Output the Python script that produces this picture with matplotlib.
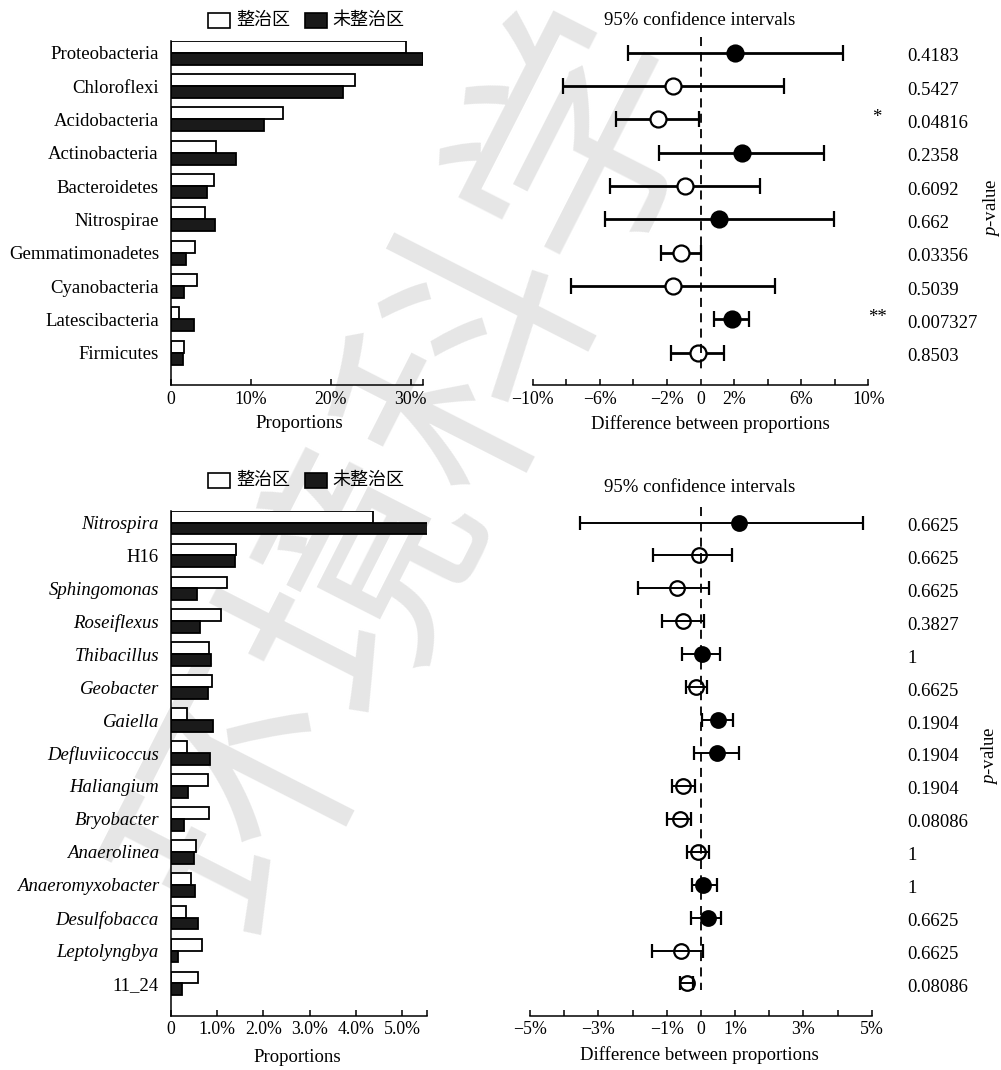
import matplotlib
matplotlib.use("Agg")
import matplotlib.pyplot as plt
import matplotlib.transforms as mtransforms
from matplotlib.patches import Rectangle

W, H = 1001, 1070

plt.rcParams["font.family"] = ["Liberation Serif", "Noto Sans CJK SC"]
plt.rcParams["mathtext.fontset"] = "custom"
plt.rcParams["mathtext.rm"] = "Liberation Serif"
plt.rcParams["mathtext.it"] = "Liberation Serif:italic"
plt.rcParams["axes.unicode_minus"] = True

# ---- phylum level (%) ----
phyla = ["Proteobacteria", "Chloroflexi", "Acidobacteria", "Actinobacteria",
         "Bacteroidetes", "Nitrospirae", "Gemmatimonadetes", "Cyanobacteria",
         "Latescibacteria", "Firmicutes"]
phyla_treated = [29.4, 23.1, 14.1, 5.7, 5.4, 4.3, 3.1, 3.25, 1.0, 1.66]
phyla_untreated = [31.6, 21.5, 11.7, 8.2, 4.6, 5.6, 1.9, 1.7, 2.9, 1.6]
phyla_diff = [2.06, -1.62, -2.55, 2.49, -0.90, 1.12, -1.16, -1.62, 1.90, -0.15]
phyla_low = [-4.34, -8.18, -5.06, -2.49, -5.41, -5.71, -2.33, -7.74, 0.78, -1.76]
phyla_high = [8.47, 4.96, -0.07, 7.36, 3.55, 7.98, 0.05, 4.44, 2.89, 1.42]
phyla_p = [0.4183, 0.5427, 0.04816, 0.2358, 0.6092, 0.662, 0.03356, 0.5039,
           0.007327, 0.8503]
phyla_stars = ["", "", "*", "", "", "", "", "", "**", ""]
phyla_bar_ticks = [0, 10, 20, 30]
phyla_bar_labels = ["0", "10%", "20%", "30%"]
phyla_ci_ticks = [-10, -8, -6, -4, -2, 0, 2, 4, 6, 8, 10]
phyla_ci_labels = ["\u221210%", "", "\u22126%", "", "\u22122%", "0", "2%", "",
                   "6%", "", "10%"]

# ---- genus level (%) ----
genera = ["Nitrospira", "H16", "Sphingomonas", "Roseiflexus", "Thibacillus",
          "Geobacter", "Gaiella", "Defluviicoccus", "Haliangium", "Bryobacter",
          "Anaerolinea", "Anaeromyxobacter", "Desulfobacca", "Leptolyngbya",
          "11_24"]
genera_treated = [4.38, 1.40, 1.22, 1.09, 0.83, 0.89, 0.36, 0.36, 0.81, 0.83,
                  0.54, 0.43, 0.33, 0.68, 0.60]
genera_untreated = [5.55, 1.39, 0.56, 0.63, 0.87, 0.81, 0.91, 0.85, 0.37, 0.29,
                    0.50, 0.52, 0.58, 0.16, 0.24]
genera_diff = [1.12, -0.04, -0.69, -0.52, 0.03, -0.14, 0.51, 0.46, -0.51, -0.61,
               -0.09, 0.07, 0.20, -0.58, -0.41]
genera_low = [-3.54, -1.41, -1.83, -1.13, -0.56, -0.44, 0.04, -0.20, -0.83, -0.98,
              -0.40, -0.27, -0.28, -1.44, -0.61]
genera_high = [4.76, 0.92, 0.25, 0.09, 0.56, 0.17, 0.95, 1.12, -0.17, -0.29,
               0.24, 0.48, 0.59, 0.06, -0.22]
genera_p = [0.6625, 0.6625, 0.6625, 0.3827, 1, 0.6625, 0.1904, 0.1904, 0.1904,
            0.08086, 1, 1, 0.6625, 0.6625, 0.08086]
genera_stars = [""] * 15
genera_upright = ["H16", "11_24"]
genera_bar_ticks = [0, 1, 2, 3, 4, 5]
genera_bar_labels = ["0", "1.0%", "2.0%", "3.0%", "4.0%", "5.0%"]
genera_ci_ticks = [-5, -4, -3, -2, -1, 0, 1, 2, 3, 4, 5]
genera_ci_labels = ["\u22125%", "", "\u22123%", "", "\u22121%", "0", "1%", "",
                    "3%", "", "5%"]

FS = 13.5
TICK_FS = 12.8
BAR_H = 0.36


def fx(px):
    return px / W


def fy(py):
    return 1 - py / H


def add_axes_px(left, right, top, bottom):
    ax = fig.add_axes([fx(left), fy(bottom), (right - left) / W, (bottom - top) / H])
    ax.set_facecolor("none")
    return ax


def legend_px(top):
    # hand-placed legend: white / black swatches with Chinese labels
    for x0, fc, label, tx in [(208, "white", "整治区", 236),
                              (305, "#1a1a1a", "未整治区", 332)]:
        fig.add_artist(Rectangle((fx(x0), fy(top + 15)), 22 / W, 15 / H,
                                 transform=fig.transFigure, facecolor=fc,
                                 edgecolor="black", linewidth=1.2))
        fig.text(fx(tx), fy(top + 7.5), label, fontsize=13, ha="left",
                 va="center", family=["Noto Sans CJK SC"])


def bar_panel(ax, names, treated, untreated, xmax, ybottom, ticks, labels,
              upright=None):
    y = list(range(len(names)))
    y_white = [v - BAR_H / 2 for v in y]
    y_black = [v + BAR_H / 2 for v in y]
    ax.barh(y_white, treated, height=BAR_H, color="white", edgecolor="black",
            linewidth=1.3)
    ax.barh(y_black, untreated, height=BAR_H, color="#1a1a1a", edgecolor="black",
            linewidth=1.3)
    ax.set_xlim(0, xmax)
    ax.set_ylim(ybottom, -BAR_H)
    ax.set_yticks(y)
    ax.set_yticklabels(names, fontsize=FS)
    if upright is not None:
        for lab in ax.get_yticklabels():
            if lab.get_text() not in upright:
                lab.set_fontstyle("italic")
    ax.tick_params(axis="y", length=0, pad=8.5)
    ax.set_xticks(ticks)
    ax.set_xticklabels(labels, fontsize=TICK_FS)
    ax.set_xticks([xmax], minor=True)
    ax.tick_params(axis="x", which="both", direction="in", length=4.5, width=1.1,
                   pad=4)
    for side in ["top", "right"]:
        ax.spines[side].set_visible(False)
    for side in ["left", "bottom"]:
        ax.spines[side].set_linewidth(1.1)


def ci_panel(ax, diff, low, high, pvals, stars, xlim, ybottom, ticks, labels,
             lw, ms, cap, open_face, dash_bottom):
    n = len(diff)
    for i in range(n):
        filled = diff[i] > 0
        ax.errorbar(diff[i], i, xerr=[[diff[i] - low[i]], [high[i] - diff[i]]],
                    fmt="o", color="black", ecolor="black", elinewidth=lw,
                    capsize=cap, capthick=lw, markersize=ms,
                    markeredgewidth=1.6,
                    markerfacecolor="black" if filled else open_face,
                    zorder=3)
    ax.plot([0, 0], [-0.47, dash_bottom], color="black", linewidth=1.3,
            linestyle=(0, (5, 3.5)), zorder=4, clip_on=False)
    ax.set_xlim(*xlim)
    ax.set_ylim(ybottom, -BAR_H)
    ax.set_yticks([])
    ax.set_xticks(ticks)
    ax.set_xticklabels(labels, fontsize=TICK_FS)
    ax.tick_params(axis="x", direction="in", length=4.5, width=1.1, pad=4)
    for side in ["top", "right", "left"]:
        ax.spines[side].set_visible(False)
    ax.spines["bottom"].set_linewidth(1.1)

    tr = mtransforms.blended_transform_factory(fig.transFigure, ax.transData)
    for i in range(n):
        ax.text(fx(907), i + 0.12, f"{pvals[i]:g}", transform=tr, fontsize=FS,
                ha="left", va="center")
        if stars[i]:
            ax.text(fx(877), i - 0.05, stars[i], transform=tr, fontsize=FS,
                    ha="center", va="center")


fig = plt.figure(figsize=(W / 100, H / 100), dpi=100)
fig.patch.set_facecolor("white")

# background watermark
fig.text(fx(418), fy(470), "环境科学", rotation=63, fontsize=178,
         color="#e6e6e6", ha="center", va="center",
         family=["Noto Sans CJK SC"], weight="normal", zorder=-10)

# ---- top row: phyla ----
ax1 = add_axes_px(170.7, 423, 40.7, 385)
bar_panel(ax1, phyla, phyla_treated, phyla_untreated, 31.55, 9.97,
          phyla_bar_ticks, phyla_bar_labels)
ax2 = add_axes_px(532.7, 868.3, 40.7, 385)
ci_panel(ax2, phyla_diff, phyla_low, phyla_high, phyla_p, phyla_stars,
         (-10, 10), 9.97, phyla_ci_ticks, phyla_ci_labels,
         lw=2.0, ms=11.5, cap=6, open_face="white", dash_bottom=9.6)
legend_px(13)
fig.text(fx(700), fy(20.5), "95% confidence intervals", fontsize=FS,
         ha="center", va="center")
fig.text(fx(299), fy(423), "Proportions", fontsize=FS, ha="center", va="center")
fig.text(fx(710.5), fy(424), "Difference between proportions", fontsize=FS,
         ha="center", va="center")
fig.text(fx(992), fy(208), "$p$-value", rotation=90, fontsize=FS,
         ha="center", va="center")

# ---- bottom row: genera ----
ax3 = add_axes_px(170.7, 426.7, 510.7, 1015.7)
bar_panel(ax3, genera, genera_treated, genera_untreated, 5.53, 14.98,
          genera_bar_ticks, genera_bar_labels, upright=genera_upright)
ax4 = add_axes_px(530, 871.7, 510.7, 1015.7)
ci_panel(ax4, genera_diff, genera_low, genera_high, genera_p, genera_stars,
         (-5, 5), 14.98, genera_ci_ticks, genera_ci_labels,
         lw=1.4, ms=10.5, cap=5, open_face="none", dash_bottom=14.2)
legend_px(473)
fig.text(fx(700), fy(487.5), "95% confidence intervals", fontsize=FS,
         ha="center", va="center")
fig.text(fx(297), fy(1058), "Proportions", fontsize=FS, ha="center", va="center")
fig.text(fx(699), fy(1055), "Difference between proportions", fontsize=FS,
         ha="center", va="center")
fig.text(fx(990), fy(756), "$p$-value", rotation=90, fontsize=FS,
         ha="center", va="center")

fig.savefig("out.png", dpi=100)
